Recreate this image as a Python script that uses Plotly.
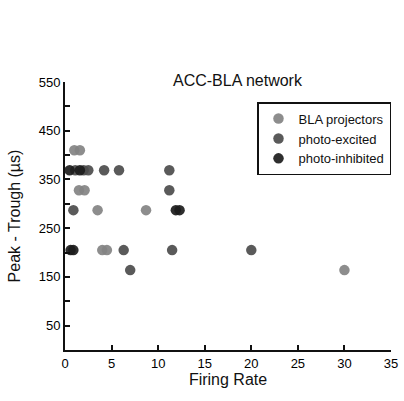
import plotly.graph_objects as go

series_names = ["BLA projectors", "photo-excited", "photo-inhibited"]
series_colors = ["#838383", "#4c4c4c", "#1c1c1c"]

bla_x = [1.0, 1.6, 1.5, 2.1, 3.5, 8.7, 4.0, 4.5, 30.0]
bla_y = [410, 410, 328, 328, 287, 287, 205, 205, 164]

exc_x = [1.1, 2.0, 2.5, 4.2, 5.8, 11.2, 11.2, 0.9, 6.3, 11.5, 7.0, 20.0]
exc_y = [369, 369, 369, 369, 369, 369, 328, 287, 205, 205, 164, 205]

inh_x = [0.5, 1.6, 11.9, 12.3, 0.6, 0.9]
inh_y = [369, 369, 287, 287, 205, 205]

x_ticks = [0, 5, 10, 15, 20, 25, 30, 35]
y_ticks = [50, 150, 250, 350, 450, 550]

FONT = "Liberation Sans, Arial, sans-serif"

fig = go.Figure()
for name, color, xs, ys in zip(series_names, series_colors,
                               [bla_x, exc_x, inh_x], [bla_y, exc_y, inh_y]):
    fig.add_trace(go.Scatter(
        x=xs, y=ys, mode="markers", name=name,
        marker=dict(size=10.5, color=color, opacity=0.92, line=dict(width=0)),
    ))

fig.update_layout(
    width=404, height=401,
    margin=dict(l=65, r=13, t=82, b=51),
    paper_bgcolor="white", plot_bgcolor="white",
    font=dict(family=FONT, color="#111"),
    showlegend=True,
    legend=dict(
        x=1.0, y=0.925, xanchor="right", yanchor="top",
        bordercolor="#111", borderwidth=1.5, bgcolor="white",
        font=dict(size=13, family=FONT, color="#111"), tracegroupgap=0,
        itemwidth=30,
    ),
    annotations=[dict(
        text="ACC-BLA network", x=0.53, y=1.005, xref="paper", yref="paper",
        xanchor="center", yanchor="middle", showarrow=False,
        font=dict(size=16, family=FONT, color="#111"),
    )],
)

fig.update_xaxes(
    automargin=False,
    range=[0, 35], tickvals=x_ticks, ticktext=[str(v) for v in x_ticks],
    ticks="inside", ticklen=5, tickwidth=1.5, tickcolor="#111",
    showline=True, linecolor="#111", linewidth=2,
    showgrid=False, zeroline=False,
    tickfont=dict(size=13, family=FONT, color="#000"),
    title=dict(text="Firing Rate", font=dict(size=16, family=FONT, color="#111"), standoff=4),
)
fig.update_yaxes(
    automargin=False,
    range=[0, 550], tickvals=y_ticks, ticktext=[str(v) for v in y_ticks],
    ticks="inside", ticklen=5, tickwidth=1.5, tickcolor="#111",
    minor=dict(tickvals=[100, 200, 300, 400, 500], ticks="inside", ticklen=5,
               tickwidth=1.5, tickcolor="#111", showgrid=False),
    showline=True, linecolor="#111", linewidth=2,
    showgrid=False, zeroline=False,
    tickfont=dict(size=13, family=FONT, color="#000"),
    title=dict(text="Peak - Trough (µs)", font=dict(size=16, family=FONT, color="#111"), standoff=14),
)

fig.write_html("out.html")
